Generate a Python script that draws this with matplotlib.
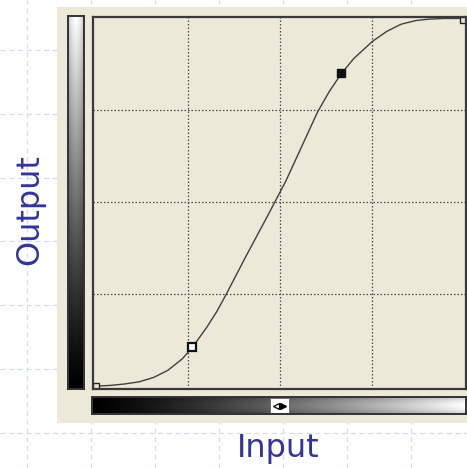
import numpy as np
import matplotlib.pyplot as plt
from matplotlib.patches import Rectangle

# curve (input -> output, 0..255)
curve_in = [0, 10, 20, 30, 40, 50, 60, 67, 77, 84, 90, 104, 120, 132, 143, 154, 162, 170,
            179, 192, 202, 212, 222, 231, 242, 255]
curve_out = [0, 0.5, 1.5, 3, 6, 11, 19, 27, 41, 52, 63, 90, 120, 143, 167, 191, 205, 217,
             228, 240, 247, 252, 254.5, 255.5, 256, 256]

# control points: end points, the open one and the selected (filled) one
end_in = [0, 255]
end_out = [0, 255]
open_in, open_out = [67], [27]
sel_in, sel_out = [170], [218]

grid_ticks = [64, 128, 192]
x_label = 'Input'
y_label = 'Output'

W, H = 467, 468
panel = '#ece9d8'
blue = '#333399'

fig = plt.figure(figsize=(W / 100, H / 100), dpi=100)


def frac(x0, y0, x1, y1):
    # pixel box -> figure fraction
    return [x0 / W, 1 - y1 / H, (x1 - x0) / W, (y1 - y0) / H]


# slide background with light dashed grid
bg = fig.add_axes([0, 0, 1, 1])
bg.set_xlim(0, W)
bg.set_ylim(H, 0)
bg.axis('off')
for x in np.arange(27, W, 64):
    bg.axvline(x, color='#d2dcf5', lw=0.9, ls=(0, (4, 3)), zorder=1)
for y in np.arange(50, H, 63.8):
    bg.axhline(y, color='#d2dcf5', lw=0.9, ls=(0, (4, 3)), zorder=1)
bg.add_patch(Rectangle((57, 7), 420, 416, facecolor=panel, edgecolor='none', zorder=3))
bg.text(30, 210, y_label, rotation=90, ha='center', va='center',
        fontsize=23, color=blue, zorder=4)
bg.text(278, 457, x_label, ha='center', va='baseline',
        fontsize=23, color=blue, zorder=4)

# curve area
ax = fig.add_axes(frac(93, 17, 466, 389))
ax.set_facecolor(panel)
ax.set_xlim(-2, 257)
ax.set_ylim(-2, 257)
for v in grid_ticks:
    ax.axvline(v, color='#4a4a4a', lw=0.9, ls=(0, (1.2, 1.6)))
    ax.axhline(v, color='#4a4a4a', lw=0.9, ls=(0, (1.2, 1.6)))
ax.plot(curve_in, curve_out, color='#404040', lw=1.0)
ax.plot(end_in, end_out, ls='none', marker='s', ms=4, mfc=panel, mec='#222222', mew=1)
ax.plot(open_in, open_out, ls='none', marker='s', ms=5.5, mfc='white', mec='#111111', mew=1.6)
ax.plot(sel_in, sel_out, ls='none', marker='s', ms=5.5, color='#111111')
ax.set_xticks([])
ax.set_yticks([])
for s in ax.spines.values():
    s.set_color('#3a3a3a')
    s.set_linewidth(1.6)

# output gradient bar (left)
u = np.linspace(0, 1, 16)
shade = 0.8 + 0.2 * np.sin(np.pi * u)
lbar = fig.add_axes(frac(68, 16, 84, 389))
lbar.imshow(np.linspace(1, 0, 256)[:, None] ** 1.2 * shade[None, :], cmap='gray',
            vmin=0, vmax=1, aspect='auto')
lbar.set_xticks([])
lbar.set_yticks([])
for s in lbar.spines.values():
    s.set_color('#333333')
    s.set_linewidth(1.4)

# input gradient bar (bottom) with midtone slider
v = np.linspace(0, 1, 16)
bshade = 0.82 + 0.18 * np.sin(np.pi * v)
bbar = fig.add_axes(frac(92, 397, 466, 414))
bbar.imshow(bshade[:, None] * np.linspace(0, 1, 256)[None, :] ** 1.3, cmap='gray',
            vmin=0, vmax=1, aspect='auto', extent=(0, 1, 0, 1))
bbar.set_xlim(0, 1)
bbar.set_ylim(0, 1)
bbar.add_patch(Rectangle((0.476, 0.06), 0.051, 0.88, facecolor='white',
                         edgecolor='#666666', lw=0.6))
bbar.plot([0.492], [0.5], marker='<', ms=5, mfc='white', mec='black', mew=0.9)
bbar.plot([0.512], [0.5], marker='>', ms=5, color='black')
bbar.set_xticks([])
bbar.set_yticks([])
for s in bbar.spines.values():
    s.set_color('#333333')
    s.set_linewidth(1.4)

fig.savefig('out.png', dpi=100)
